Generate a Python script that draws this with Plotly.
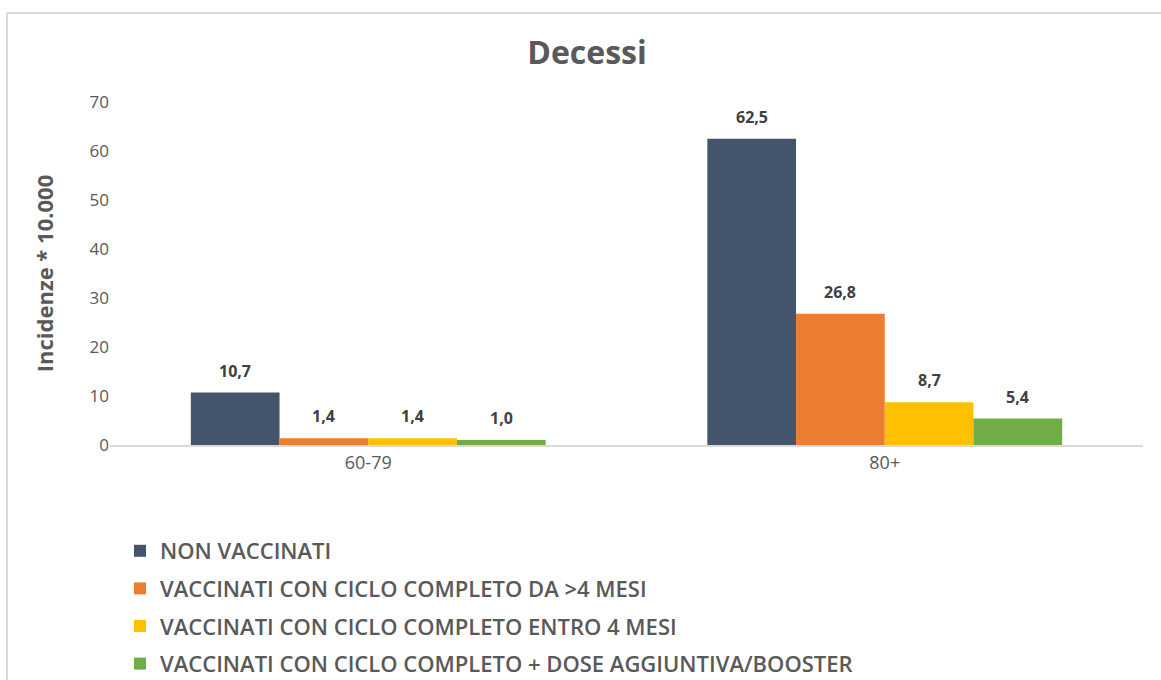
import plotly.graph_objects as go

categories = ["60-79", "80+"]
series_names = [
    "NON VACCINATI",
    "VACCINATI CON CICLO COMPLETO DA >4 MESI",
    "VACCINATI CON CICLO COMPLETO ENTRO 4 MESI",
    "VACCINATI CON CICLO COMPLETO + DOSE AGGIUNTIVA/BOOSTER",
]
non_vaccinati = [10.7, 62.5]
completo_oltre_4 = [1.4, 26.8]
completo_entro_4 = [1.4, 8.7]
booster = [1.0, 5.4]
y_ticks = [0, 10, 20, 30, 40, 50, 60, 70]

colors = ["#44546A", "#ED7D31", "#FFC000", "#70AD47"]
values = [non_vaccinati, completo_oltre_4, completo_entro_4, booster]

W, H = 1161, 680
L, R, T, B = 110, 18, 102, 235
pw, ph = W - L - R, H - T - B
BARGAP = 0.313
n = len(values)
bar_px = pw / len(categories) * (1 - BARGAP) / n

fig = go.Figure()
annotations = []
for i, (name, vals, col) in enumerate(zip(series_names, values, colors)):
    fig.add_trace(go.Bar(
        x=categories, y=vals, name=name,
        marker=dict(color=col, line=dict(width=0)),
        legendgroup=f"g{i}",
    ))
    for c, v in zip(categories, vals):
        annotations.append(dict(
            x=c, y=v, xref="x", yref="y", text=f"{v:.1f}".replace(".", ","),
            showarrow=False, xanchor="center", yanchor="bottom",
            xshift=(i - (n - 1) / 2) * bar_px, yshift=9,
            font=dict(family="Open Sans", size=16, color="#404040", weight=700),
        ))

fig.update_layout(
    width=W, height=H,
    margin=dict(l=L, r=R, t=T, b=B, autoexpand=False),
    paper_bgcolor="white", plot_bgcolor="white",
    barmode="group", bargap=BARGAP, bargroupgap=0,
    separators=",.",
    font=dict(family="Open Sans", color="#595959"),
    title=dict(text="Decessi", x=587 / W, xanchor="center", y=1 - 53 / H, yanchor="middle",
               font=dict(family="Open Sans", size=32, color="#595959", weight=700)),
    showlegend=True,
    legend=dict(orientation="v", xref="paper", yref="paper",
                x=(120 - L) / pw, xanchor="left",
                y=(H - B - 530) / ph, yanchor="top",
                font=dict(family="Open Sans", size=22, color="#595959", weight=600),
                traceorder="grouped", tracegroupgap=6, itemwidth=30,
                bgcolor="rgba(0,0,0,0)"),
    xaxis=dict(showgrid=False, showline=True, linecolor="#D9D9D9", linewidth=2,
               ticks="", tickfont=dict(family="Open Sans", size=18, color="#595959")),
    yaxis=dict(range=[0, 70], tickvals=y_ticks, showgrid=False, zeroline=False, showline=False,
               ticks="", tickfont=dict(family="Open Sans", size=17, color="#595959"),
               title=dict(text="Incidenze * 10.000", standoff=29,
                          font=dict(family="Open Sans", size=22, color="#595959", weight=700))),
    annotations=annotations,
    shapes=[
        dict(type="line", xref="paper", yref="paper",
             x0=(7 - L) / pw, x1=(W + 5 - L) / pw, y0=(H - B - 13) / ph, y1=(H - B - 13) / ph,
             line=dict(color="#D9D9D9", width=2)),
        dict(type="line", xref="paper", yref="paper",
             x0=(7 - L) / pw, x1=(7 - L) / pw, y0=(H - B - 13) / ph, y1=(H - B - H - 5) / ph,
             line=dict(color="#D9D9D9", width=2)),
    ],
)

fig.write_html("out.html", config={"displayModeBar": False},
               post_script="document.body.style.margin='0';document.body.style.overflow='hidden';")
